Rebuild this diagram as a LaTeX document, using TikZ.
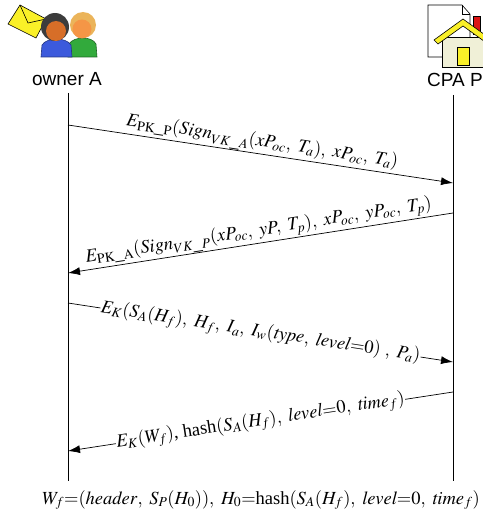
\documentclass[tikz,border=0pt]{standalone}
\usepackage{mathptmx}
\usepackage[no-math]{fontspec}
\setmainfont{Liberation Serif}
\setsansfont{Liberation Sans}
\usetikzlibrary{arrows.meta, positioning}

\definecolor{envyellow}{RGB}{250,240,40}
\definecolor{hairdark}{RGB}{60,60,60}
\definecolor{skin}{RGB}{215,110,40}
\definecolor{blond}{RGB}{235,180,90}
\definecolor{skinlight}{RGB}{245,150,70}
\definecolor{shirtblue}{RGB}{60,90,220}
\definecolor{shirtgreen}{RGB}{50,170,60}
\definecolor{wallcream}{RGB}{240,240,215}
\definecolor{chimred}{RGB}{220,20,20}

\newcommand{\cs}{,\ }% comma and a word space

\tikzset{
  msg/.style={-{Latex[length=12pt,width=8pt]}, line width=0.7pt},
  lifeline/.style={line width=0.7pt},
  actor/.style={font=\sffamily\fontsize{19}{23}\selectfont, inner sep=0pt},
  lbl/.style={sloped, font=\fontsize{18.5}{22}\selectfont, inner sep=0.5pt},
  inl/.style={lbl, fill=white, inner sep=0.5pt},
  icon/.style={draw=black, line width=0.6pt}
}

\begin{document}
\begin{tikzpicture}[x=1pt,y=-1pt]
\useasboundingbox (0,0) rectangle (482,516);

% owner icon
\filldraw[icon, fill=envyellow] (8,24) -- (20,5) -- (46,19) -- (36,38) -- cycle;
\draw[icon] (20,5) -- (28,23) -- (46,19);
\filldraw[icon, fill=shirtgreen, draw=shirtgreen!60!black] (68,57) -- (69,44) .. controls (74,36) and (92,36) .. (96,44) -- (97,57) -- cycle;
\fill[blond] (83,25) circle [radius=13];
\fill[skinlight] (82,29) circle [radius=9.5];
\filldraw[icon, fill=shirtblue, draw=shirtblue!60!black] (41,57) -- (42,45) .. controls (47,37) and (66,37) .. (71,45) -- (72,57) -- cycle;
\fill[hairdark] (55,27) circle [radius=14];
\fill[skin] (56,31) circle [radius=10];

% CPA icon
\filldraw[icon, fill=white] (428,5) -- (462,5) -- (470,14) -- (470,57) -- (428,57) -- cycle;
\draw[icon] (462,5) -- (462,14) -- (470,14);
\filldraw[icon, fill=chimred] (473,16) rectangle (480,34);
\filldraw[icon, fill=wallcream] (442,37) rectangle (488,67);
\filldraw[icon, fill=envyellow] (434,40) -- (463,19) -- (492,40) -- (488,44) -- (463,26) -- (438,44) -- cycle;
\filldraw[icon, fill=envyellow] (457,47) rectangle (469,65);

\node[actor] (ownerA) at (67,79) {owner A};
\node[actor] (cpaP) at (455,80) {CPA P};

\coordinate (Atop) at (68,93);
\coordinate (Abot) at (68,481);
\coordinate (Ptop) at (453,95);
\coordinate (Pbot) at (453,481);

\draw[lifeline] (Atop) -- (Abot);
\draw[lifeline] (Ptop) -- (Pbot);

\coordinate (m1s) at (68,125);
\coordinate (m1e) at (453,183);
\coordinate (m2s) at (453,213);
\coordinate (m2e) at (68,273);
\coordinate (m3s) at (68,303);
\coordinate (m3e) at (453,362);
\coordinate (m4s) at (453,392);
\coordinate (m4e) at (68,451);

\draw[msg] (m1s) -- node[lbl, above, midway]
  {$E_{\mathrm{PK\_P}}(\mathit{Sign}_{VK\_A}(xP_{oc}\cs T_a)\cs xP_{oc}\cs T_a)$} (m1e);
\draw[msg] (m2s) -- node[lbl, above, midway]
  {$E_{\mathrm{PK\_A}}(\mathit{Sign}_{VK\_P}(xP_{oc}\cs yP\cs T_p)\cs xP_{oc}\cs yP_{oc}\cs T_p)$} (m2e);
\draw[msg] (m3s) -- node[inl, midway]
  {$E_{K}(S_A(H_f)\cs H_f\cs I_a\cs I_w(\mathit{type}\cs \mathit{level}{=}0)\ \cs P_a)$} (m3e);
\draw[msg] (m4s) -- node[inl, midway]
  {$E_{K}(W_f)$, hash$(S_A(H_f)\cs \mathit{level}{=}0\cs \mathit{time}_f)$} (m4e);

\node[font=\fontsize{18.5}{22}\selectfont, inner sep=0pt] (wdef) at (261,500)
  {$W_f{=}(\mathit{header}\cs S_P(H_0))\cs H_0{=}$hash$(S_A(H_f)\cs \mathit{level}{=}0\cs \mathit{time}_f)$};
\end{tikzpicture}
\end{document}
